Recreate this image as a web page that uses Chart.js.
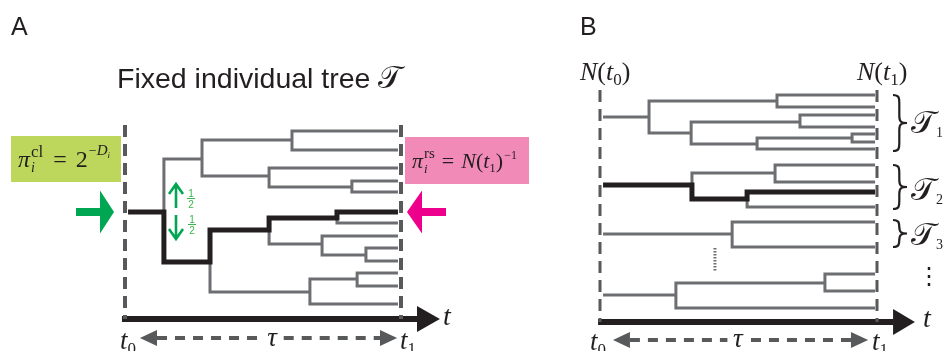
<!DOCTYPE html>
<html>
<head>
<meta charset="utf-8">
<script src="https://cdn.jsdelivr.net/npm/chart.js@4.4.0/dist/chart.umd.min.js"></script>
<style>
html, body { margin: 0; padding: 0; background: #fff; overflow: hidden; }
#wrap { position: relative; width: 943px; height: 351px; }
canvas { position: absolute; left: 0; top: 0; }
</style>
</head>
<body>
<div id="wrap">
<canvas id="chartA" width="943" height="351"></canvas>
<canvas id="chartB" width="943" height="351"></canvas>
</div>
<script>
// time runs from t0 = 0 to t1 = 1, y = vertical position of a lineage
// panel A: one fixed tree (node time, node y, parent index)
const nodeTimeA = [0.011, 0.141, 0.279, 0.605, 0.989, 0.989, 0.522, 0.989, 0.822, 0.989, 0.989,
                   0.308, 0.522, 0.768, 0.989, 0.989, 0.714, 0.989, 0.873, 0.989, 0.989,
                   0.670, 0.841, 0.989, 0.989, 0.989];
const nodeYA = [212, 212, 159, 140, 131, 150, 176, 168, 187, 181, 192,
                262, 230, 218, 212, 223, 244, 236, 255, 248, 261,
                292, 279, 273, 286, 304];
const nodeParentA = [-1, 0, 1, 2, 3, 3, 2, 6, 6, 8, 8,
                     1, 11, 12, 13, 13, 12, 16, 16, 18, 18,
                     11, 21, 22, 22, 21];
const lineageA = [1, 11, 12, 13, 14];

// panel B: forest of trees T1, T2, T3 ... T_N(t0)
const nodeTimeB = [0.011, 0.177, 0.639, 0.993, 0.993, 0.329, 0.722, 0.993, 0.993, 0.567, 0.910, 0.993, 0.993, 0.993,
                   0.011, 0.332, 0.632, 0.993, 0.993, 0.531, 0.993, 0.993,
                   0.011, 0.477, 0.993, 0.993,
                   0.011, 0.274, 0.812, 0.993, 0.993, 0.993];
const nodeYB = [117, 117, 101, 95, 107, 133, 122, 115, 127, 144, 138, 134, 142, 149,
                185, 185, 173, 165, 182, 199, 192, 207,
                234, 234, 222, 247,
                295, 295, 283, 274, 291, 308];
const nodeParentB = [-1, 0, 1, 2, 2, 1, 5, 6, 6, 5, 9, 10, 10, 9,
                     -1, 14, 15, 16, 16, 15, 19, 19,
                     -1, 22, 23, 23,
                     -1, 26, 27, 28, 28, 27];
const lineageB = [15, 19, 20];

const SERIF = '"Liberation Serif", "DejaVu Serif", serif';
const SANS = '"Liberation Sans", Arial, sans-serif';
const GRAY = '#6d6e71';
const DASH = '#58595b';
const INK = '#231f20';
const GREEN = '#00a651';

function lineSet(pts, color, width, dash) {
  return {
    data: pts.map(([x, y]) => ({ x, y })),
    showLine: true, borderColor: color, borderWidth: width, borderDash: dash || [],
    pointRadius: 0, pointHoverRadius: 0, tension: 0, clip: false, fill: false,
    borderCapStyle: 'butt', borderJoinStyle: 'miter'
  };
}

// elbow edges: vertical at parent time, then horizontal to the child
function treeSets(times, ys, parents, lineage) {
  const onPath = new Set(lineage);
  const sets = [];
  const first = parents[lineage[0]];
  const pts = [[times[first], ys[first]]];
  lineage.forEach(k => {
    const p = parents[k];
    pts.push([times[p], ys[k]], [times[k], ys[k]]);
  });
  sets.push(lineSet(pts, INK, 5));
  parents.forEach((p, k) => {
    if (p < 0 || onPath.has(k)) return;
    sets.push(lineSet([[times[p], ys[p]], [times[p], ys[k]], [times[k], ys[k]]], GRAY, 3));
  });
  return sets;
}

function head(ctx, tipX, tipY, baseX, half, color) {
  ctx.fillStyle = color;
  ctx.beginPath();
  ctx.moveTo(tipX, tipY);
  ctx.lineTo(baseX, tipY - half);
  ctx.lineTo(baseX, tipY + half);
  ctx.closePath();
  ctx.fill();
}

// text run with sup/subscripts; stack = draw under the previous piece
function run(ctx, x, y, parts, color) {
  ctx.fillStyle = color || INK;
  ctx.textAlign = 'left';
  ctx.textBaseline = 'alphabetic';
  let cx = x, lastStart = x, lastEnd = x;
  parts.forEach(p => {
    ctx.font = p.f;
    const w = ctx.measureText(p.s).width;
    const sx = p.stack ? lastStart : cx + (p.dx || 0);
    ctx.fillText(p.s, sx, y + (p.dy || 0));
    if (p.stack) { cx = Math.max(lastEnd, sx + w); lastEnd = cx; }
    else { lastStart = sx; lastEnd = sx + w; cx = lastEnd; }
  });
}

function tLabel(ctx, x, y, sub) {
  run(ctx, x, y, [
    { s: 't', f: `italic 27px ${SERIF}` },
    { s: sub, f: `17px ${SERIF}`, dy: 5 }
  ]);
}

function brace(ctx, x0, y1, y2, w) {
  const ym = (y1 + y2) / 2, c = x0 + w * 0.45;
  ctx.strokeStyle = INK;
  ctx.lineWidth = 2.2;
  ctx.beginPath();
  ctx.moveTo(x0, y1);
  ctx.bezierCurveTo(c, y1, c, y1 + 3, c, y1 + 8);
  ctx.lineTo(c, ym - 7);
  ctx.bezierCurveTo(c, ym - 1, c + 2, ym, x0 + w, ym);
  ctx.bezierCurveTo(c + 2, ym, c, ym + 1, c, ym + 7);
  ctx.lineTo(c, y2 - 8);
  ctx.bezierCurveTo(c, y2 - 3, c, y2, x0, y2);
  ctx.stroke();
}

function frac(ctx, cx, top) {
  ctx.fillStyle = '#39b54a';
  ctx.font = `10px ${SANS}`;
  ctx.textAlign = 'center';
  ctx.fillText('1', cx, top + 8);
  ctx.fillRect(cx - 4, top + 9, 8, 1);
  ctx.fillText('2', cx, top + 19);
}

const decorA = {
  id: 'decorA',
  afterDatasetsDraw(chart) {
    const { ctx, scales: { x, y } } = chart;
    const X = v => x.getPixelForValue(v), Y = v => y.getPixelForValue(v);
    ctx.save();
    // axis and tau arrowheads
    head(ctx, X(1.141), Y(319), X(1.058), 13, INK);
    head(ctx, X(0.054), Y(338), X(0.116), 8, DASH);
    head(ctx, X(0.986), Y(338), X(0.924), 8, DASH);

    ctx.fillStyle = INK;
    ctx.font = `25px ${SANS}`;
    ctx.textAlign = 'left';
    ctx.fillText('A', 11, 35);
    ctx.font = `28.5px ${SANS}`;
    ctx.fillText('Fixed individual tree', 117, 88);
    ctx.font = `31px "DejaVu Serif", serif`;
    ctx.fillText('𝒯', 378, 88);

    // probability boxes
    ctx.fillStyle = '#bdd75c';
    ctx.fillRect(11, 136, 110, 46);
    ctx.fillStyle = '#f28ab8';
    ctx.fillRect(405, 137, 124, 47);
    run(ctx, 18, 167, [
      { s: 'π', f: `italic 24px ${SERIF}` },
      { s: 'cl', f: `17px ${SERIF}`, dy: -10, dx: 1 },
      { s: 'i', f: `italic 14px ${SERIF}`, dy: 5, stack: true },
      { s: '=', f: `24px ${SERIF}`, dx: 10 },
      { s: '2', f: `24px ${SERIF}`, dx: 9 },
      { s: '−', f: `14px ${SERIF}`, dy: -12, dx: 1 },
      { s: 'D', f: `italic 15px ${SERIF}`, dy: -12 },
      { s: 'i', f: `italic 9px ${SERIF}`, dy: -9 }
    ]);
    run(ctx, 412, 168, [
      { s: 'π', f: `italic 22px ${SERIF}` },
      { s: 'rs', f: `15px ${SERIF}`, dy: -10, dx: 1 },
      { s: 'i', f: `italic 13px ${SERIF}`, dy: 5, stack: true },
      { s: '=', f: `22px ${SERIF}`, dx: 7 },
      { s: 'N', f: `italic 22px ${SERIF}`, dx: 7 },
      { s: '(', f: `22px ${SERIF}` },
      { s: 't', f: `italic 22px ${SERIF}` },
      { s: '1', f: `13px ${SERIF}`, dy: 4 },
      { s: ')', f: `22px ${SERIF}` },
      { s: '−1', f: `12px ${SERIF}`, dy: -9, dx: 1 }
    ]);

    // entry / exit arrows
    ctx.fillStyle = GREEN;
    ctx.fillRect(76, 208, 25, 8);
    head(ctx, 114, 212, 100, 21.5, GREEN);
    ctx.fillStyle = '#ec008c';
    ctx.fillRect(421, 208, 25, 8);
    head(ctx, 407, 212, 422, 21.5, '#ec008c');

    // branching choice arrows
    ctx.strokeStyle = GREEN;
    ctx.lineWidth = 2.6;
    ctx.beginPath();
    ctx.moveTo(176, 208); ctx.lineTo(176, 184);
    ctx.moveTo(169, 194); ctx.lineTo(176, 184); ctx.lineTo(183, 194);
    ctx.moveTo(176, 215); ctx.lineTo(176, 239);
    ctx.moveTo(169, 229); ctx.lineTo(176, 239); ctx.lineTo(183, 229);
    ctx.stroke();
    frac(ctx, 191, 189);
    frac(ctx, 192, 215);

    // time labels
    run(ctx, 443, 325, [{ s: 't', f: `italic 28px ${SERIF}` }]);
    tLabel(ctx, 120, 349, '0');
    tLabel(ctx, 400, 349, '1');
    ctx.fillStyle = INK;
    ctx.font = `italic 27px ${SERIF}`;
    ctx.textAlign = 'center';
    ctx.fillText('τ', X(0.533), 346);
    ctx.restore();
  }
};

const decorB = {
  id: 'decorB',
  afterDatasetsDraw(chart) {
    const { ctx, scales: { x, y } } = chart;
    const X = v => x.getPixelForValue(v), Y = v => y.getPixelForValue(v);
    ctx.save();
    head(ctx, X(1.137), Y(322), X(1.058), 13, INK);
    head(ctx, X(0.047), Y(340), X(0.108), 8, DASH);
    head(ctx, X(0.968), Y(340), X(0.906), 8, DASH);

    ctx.fillStyle = INK;
    ctx.font = `25px ${SANS}`;
    ctx.textAlign = 'left';
    ctx.fillText('B', 580, 35);
    [[580, '0'], [857, '1']].forEach(([px, sub]) => {
      run(ctx, px, 80, [
        { s: 'N', f: `italic 26px ${SERIF}` },
        { s: '(', f: `26px ${SERIF}` },
        { s: 't', f: `italic 26px ${SERIF}` },
        { s: sub, f: `17px ${SERIF}`, dy: 5 },
        { s: ')', f: `26px ${SERIF}` }
      ]);
    });

    // braces and tree names
    brace(ctx, 893, 95, 151, 14);
    brace(ctx, 893, 165, 209, 14);
    brace(ctx, 893, 220, 247, 14);
    [[133, '1'], [200, '2'], [245, '3']].forEach(([py, sub]) => {
      run(ctx, 911, py, [
        { s: '𝒯', f: `32px "DejaVu Serif", serif` },
        { s: sub, f: `14px ${SERIF}`, dy: 4 }
      ]);
    });
    ctx.fillStyle = INK;
    ctx.font = `24px "DejaVu Sans", sans-serif`;
    ctx.textAlign = 'center';
    ctx.fillText('⋮', 929, 284);

    run(ctx, 923, 327, [{ s: 't', f: `italic 28px ${SERIF}` }]);
    tLabel(ctx, 590, 350, '0');
    tLabel(ctx, 872, 350, '1');
    ctx.fillStyle = INK;
    ctx.font = `italic 27px ${SERIF}`;
    ctx.textAlign = 'center';
    ctx.fillText('τ', X(0.498), 347);
    ctx.restore();
  }
};

function baseOptions(padLeft, padRight) {
  return {
    responsive: false,
    animation: false,
    events: [],
    layout: { padding: { left: padLeft, right: padRight, top: 0, bottom: 0 } },
    scales: {
      x: { type: 'linear', min: 0, max: 1, display: false },
      y: { type: 'linear', min: 0, max: 351, reverse: true, display: false }
    },
    plugins: { legend: { display: false }, tooltip: { enabled: false } }
  };
}

const setsA = treeSets(nodeTimeA, nodeYA, nodeParentA, lineageA).concat([
  lineSet([[0, 125], [0, 319]], DASH, 4, [12, 7]),
  lineSet([[1, 125], [1, 319]], DASH, 4, [12, 7]),
  lineSet([[-0.011, 319], [1.06, 319]], INK, 6),
  lineSet([[0.116, 338], [0.49, 338]], DASH, 4, [10, 8]),
  lineSet([[0.575, 338], [0.925, 338]], DASH, 4, [10, 8])
]);

new Chart(document.getElementById('chartA').getContext('2d'), {
  type: 'scatter',
  data: { datasets: setsA },
  options: baseOptions(125, 943 - 401),
  plugins: [decorA]
});

const setsB = treeSets(nodeTimeB, nodeYB, nodeParentB, lineageB).concat([
  lineSet([[0.415, 248], [0.415, 271]], GRAY, 3, [1.5, 1.5]),
  lineSet([[0, 90], [0, 322]], DASH, 3, [12, 7]),
  lineSet([[1, 90], [1, 322]], DASH, 3, [12, 7]),
  lineSet([[-0.007, 322], [1.06, 322]], INK, 6),
  lineSet([[0.108, 340], [0.46, 340]], DASH, 4, [10, 8]),
  lineSet([[0.545, 340], [0.907, 340]], DASH, 4, [10, 8])
]);

new Chart(document.getElementById('chartB').getContext('2d'), {
  type: 'scatter',
  data: { datasets: setsB },
  options: baseOptions(600, 943 - 877),
  plugins: [decorB]
});
</script>
</body>
</html>
